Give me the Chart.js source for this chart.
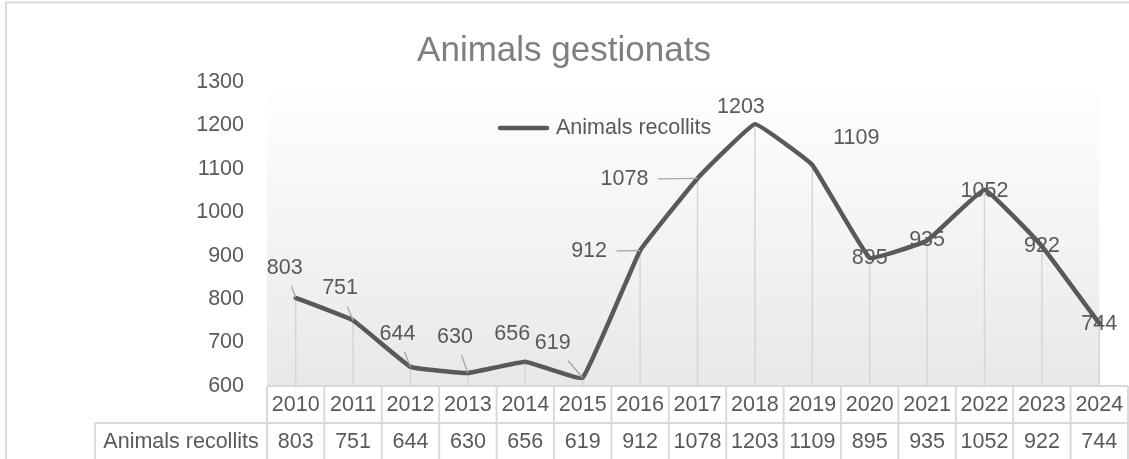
<!DOCTYPE html>
<html>
<head>
<meta charset="utf-8">
<script src="https://cdn.jsdelivr.net/npm/chart.js@4.4.1/dist/chart.umd.min.js"></script>
<style>
body { margin: 0; background: #fff; }
#wrap { width: 1129px; height: 459px; }
</style>
</head>
<body>
<div id="wrap"><canvas id="myChart" width="1129" height="459"></canvas></div>
<script>
// chart data
var chartTitle = "Animals gestionats";
var seriesName = "Animals recollits";
var years = ["2010", "2011", "2012", "2013", "2014", "2015", "2016", "2017", "2018", "2019", "2020", "2021", "2022", "2023", "2024"];
var recollits = [803, 751, 644, 630, 656, 619, 912, 1078, 1203, 1109, 895, 935, 1052, 922, 744];
var yMin = 600;
var yMax = 1300;
var yStep = 100;

var FONT = '"Liberation Sans", Arial, sans-serif';
var TXT = '#595959';
var GRID = '#d9d9d9';

function hline(ctx, x0, x1, y)
{
    ctx.beginPath();
    ctx.moveTo(x0, y);
    ctx.lineTo(x1, y);
    ctx.stroke();
}
function vline(ctx, x, y0, y1)
{
    ctx.beginPath();
    ctx.moveTo(x, y0);
    ctx.lineTo(x, y1);
    ctx.stroke();
}

// plot background, drop lines, data labels, data table, legend
var excelLook = {
    id: 'excelLook',
    beforeDatasetsDraw: function(chart)
    {
        var ctx = chart.ctx, area = chart.chartArea;
        var pts = chart.getDatasetMeta(0).data;
        var last = pts[pts.length - 1];
        ctx.save();
        var g = ctx.createLinearGradient(0, area.top, 0, area.bottom);
        g.addColorStop(0, '#ffffff');
        g.addColorStop(1, '#e8e8e8');
        ctx.fillStyle = g;
        ctx.fillRect(area.left, area.top, last.x - area.left, area.bottom - area.top);
        ctx.strokeStyle = '#d6d6d6';
        ctx.lineWidth = 1.5;
        pts.forEach(function(p) { vline(ctx, p.x, p.y, area.bottom); });
        ctx.restore();
    },
    afterDatasetsDraw: function(chart, args, opts)
    {
        var ctx = chart.ctx;
        var pts = chart.getDatasetMeta(0).data;
        var vals = chart.data.datasets[0].data;
        ctx.save();
        ctx.font = opts.fontSize + 'px ' + FONT;
        ctx.textAlign = 'center';
        ctx.textBaseline = 'middle';
        pts.forEach(function(p, i)
        {
            var off = opts.offsets[i];
            var cx = p.x + off[0], cy = p.y + off[1];
            var txt = String(vals[i]);
            if (off[2])
            {
                var hw = ctx.measureText(txt).width / 2 + 9.5;
                var hh = 18;
                var dx = p.x - cx, dy = p.y - cy;
                var t = Math.min(dx ? hw / Math.abs(dx) : 1e9, dy ? hh / Math.abs(dy) : 1e9);
                if (t < 1)
                {
                    ctx.strokeStyle = '#a6a6a6';
                    ctx.lineWidth = 1.3;
                    ctx.beginPath();
                    ctx.moveTo(cx + dx * t, cy + dy * t);
                    ctx.lineTo(p.x, p.y);
                    ctx.stroke();
                }
            }
            ctx.fillStyle = TXT;
            ctx.fillText(txt, cx, cy);
        });
        ctx.restore();
    },
    afterDraw: function(chart, args, opts)
    {
        var ctx = chart.ctx, area = chart.chartArea;
        var xs = chart.scales.x;
        var n = chart.data.labels.length;
        var half = (xs.getPixelForValue(1) - xs.getPixelForValue(0)) / 2;
        var top = area.bottom, mid = top + 37, bot = mid + 37;
        var labelLeft = 95;
        ctx.save();
        // table grid
        ctx.strokeStyle = GRID;
        ctx.lineWidth = 2;
        hline(ctx, area.left, xs.getPixelForValue(n - 1) + half, top);
        hline(ctx, labelLeft, xs.getPixelForValue(n - 1) + half, mid);
        hline(ctx, labelLeft, xs.getPixelForValue(n - 1) + half, bot);
        vline(ctx, labelLeft, mid, bot);
        for (var i = 0; i <= n; i++)
        {
            vline(ctx, xs.getPixelForValue(0) - half + i * 2 * half, top, bot);
        }
        // table text
        ctx.fillStyle = TXT;
        ctx.font = opts.fontSize + 'px ' + FONT;
        ctx.textAlign = 'center';
        ctx.textBaseline = 'middle';
        var vals = chart.data.datasets[0].data;
        for (var j = 0; j < n; j++)
        {
            var x = xs.getPixelForValue(j);
            ctx.fillText(chart.data.labels[j], x, (top + mid) / 2 + 1);
            ctx.fillText(String(vals[j]), x, (mid + bot) / 2 + 1);
        }
        ctx.fillText(chart.data.datasets[0].label, (labelLeft + area.left) / 2, (mid + bot) / 2 + 1);

        // legend inside the plot
        var ly = area.top + 46;
        ctx.strokeStyle = chart.data.datasets[0].borderColor;
        ctx.lineWidth = 4.5;
        ctx.lineCap = 'round';
        hline(ctx, 500, 547, ly);
        ctx.textAlign = 'left';
        ctx.fillText(chart.data.datasets[0].label, 556, ly);

        // chart border
        ctx.strokeStyle = GRID;
        ctx.lineWidth = 2;
        ctx.strokeRect(6, 2.5, 1200, 600);
        ctx.restore();
    }
};

var canvas = document.getElementById('myChart');
var myChart = new Chart(canvas.getContext('2d'),
{
    type: 'line',
    data:
    {
        labels: years,
        datasets:
        [{
            label: seriesName,
            data: recollits,
            borderColor: '#595959',
            borderWidth: 4.5,
            pointRadius: 0,
            tension: 0.08,
            borderCapStyle: 'round',
            borderJoinStyle: 'round'
        }]
    },
    options:
    {
        responsive: false,
        animation: false,
        devicePixelRatio: 1,
        layout: {padding: {left: 0, right: 1, top: 0, bottom: 73}},
        scales:
        {
            x: {display: false, offset: true},
            y:
            {
                min: yMin,
                max: yMax,
                ticks:
                {
                    stepSize: yStep,
                    padding: 23,
                    color: TXT,
                    font: {family: FONT, size: 21.5},
                    callback: function(v) { return String(v); }
                },
                grid: {display: false, drawTicks: false},
                border: {display: false},
                afterFit: function(scale) { scale.width = 267; }
            }
        },
        plugins:
        {
            legend: {display: false},
            tooltip: {enabled: false},
            title:
            {
                display: true,
                text: chartTitle,
                color: '#7f7f7f',
                font: {family: FONT, size: 35, weight: 'normal'},
                padding: {top: 30, bottom: 10}
            },
            excelLook:
            {
                fontSize: 21.5,
                // label offset from its point: dx, dy, leader line
                offsets:
                [
                    [-11, -30, true], [-13, -32, true], [-13, -33, true], [-13, -36, true],
                    [-13, -28, false], [-30, -35, true], [-51, 1, true], [-73, 1, true],
                    [-14, -17, false], [44, -27, false], [0, 0, false], [0, 0, false],
                    [0, 1, false], [0, 0, false], [0, 1, false]
                ]
            }
        }
    },
    plugins: [excelLook]
});
</script>
</body>
</html>
